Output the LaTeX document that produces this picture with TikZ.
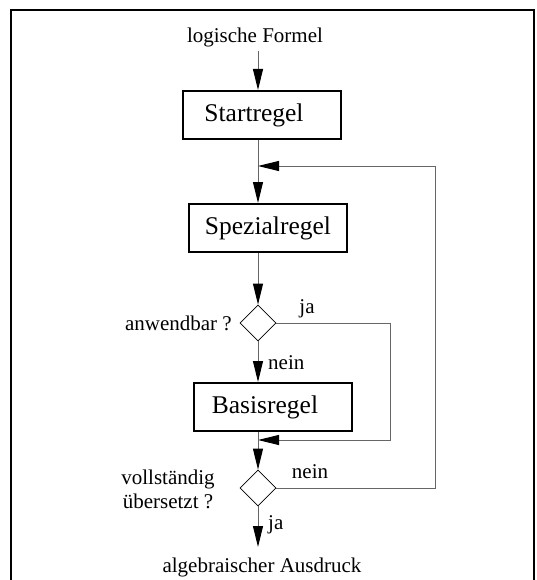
\documentclass[tikz,border=0pt]{standalone}
\usepackage{fontspec}
\setmainfont{Liberation Serif}
\usetikzlibrary{arrows.meta,shapes.geometric}
\begin{document}
\begin{tikzpicture}[x=1pt,y=-1pt,
  regel/.style={draw,line width=2pt,minimum width=158pt,minimum height=48pt,inner sep=0pt,font=\fontsize{25.5}{30}\selectfont},
  frage/.style={draw,diamond,line width=0.8pt,minimum width=36pt,minimum height=36pt,inner sep=0pt},
  lbl/.style={font=\fontsize{21}{24}\selectfont,inner sep=0pt},
  linie/.style={line width=1pt,black!60},
  pfeil/.style={linie,-{Triangle[length=21pt,width=10pt,black]}}]
  \useasboundingbox (0,0) rectangle (536,580);
  \draw[line width=2pt] (11,600) -- (11,10) -- (534,10) -- (534,600);
  % Knoten
  \node[lbl] (ein) at (255,37) {logische Formel};
  \node[regel] (start) at (262,115) {\hspace*{-16pt}Startregel};
  \node[regel] (spezial) at (268,228) {Spezialregel};
  \node[frage] (anw) at (258,323) {};
  \node[regel] (basis) at (273,407) {\hspace*{-16pt}Basisregel};
  \node[frage] (voll) at (258,488) {};
  \node[lbl] (aus) at (262,567) {algebraischer Ausdruck};
  % Beschriftungen
  \node[lbl,anchor=east] (anwtxt) at (232,323) {anwendbar ?};
  \node[lbl] (anwja) at (307,309) {ja};
  \node[lbl,anchor=west] (anwnein) at (268,363) {nein};
  \node[lbl,align=center] (volltxt) at (168,489) {vollständig\\übersetzt ?};
  \node[lbl] (vollnein) at (310,472) {nein};
  \node[lbl,anchor=west] (vollja) at (268,525) {ja};
  % Hilfspunkte
  \coordinate (j1) at (258,166);
  \coordinate (j2) at (258,440);
  \coordinate (r1) at (390,440);
  \coordinate (r2) at (435,166);
  \coordinate (ende) at (258,547);
  % Verbindungen
  \draw[pfeil] (ein.south -| j1) ++(0,4) -- (start.north -| j1);
  \draw[linie] (start.south -| j1) -- (j1);
  \draw[pfeil] (j1) -- (spezial.north -| j1);
  \draw[pfeil] (spezial.south -| anw) -- (anw.north);
  \draw[pfeil] (anw.south) -- (basis.north -| anw);
  \draw[pfeil] (anw.east) -| (r1) -- (j2);
  \draw[linie] (basis.south -| j2) -- (j2);
  \draw[pfeil] (j2) -- (voll.north);
  \draw[pfeil] (voll.east) -| (r2) -- (j1);
  \draw[pfeil] (voll.south) -- (ende);
\end{tikzpicture}
\end{document}
